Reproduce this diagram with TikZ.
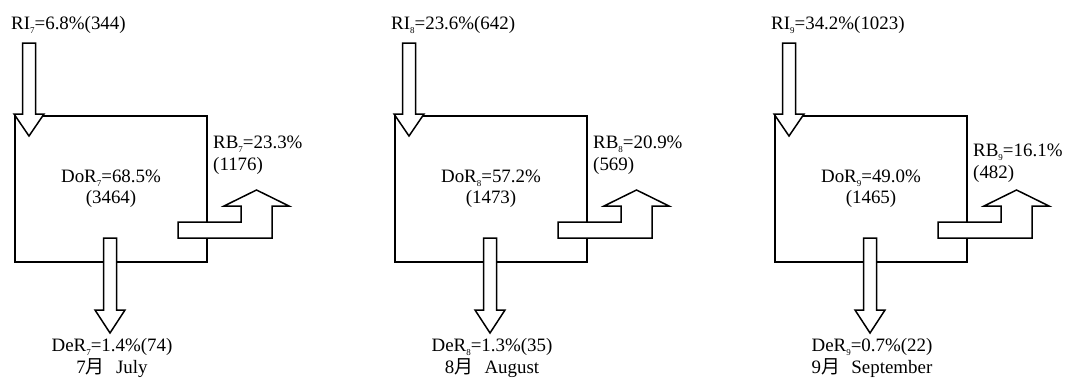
\documentclass[tikz,border=0pt]{standalone}
\usepackage{fontspec}
\setmainfont{Liberation Serif}
\newfontfamily\cjk{Noto Sans CJK SC}
\usepackage{tikz}
\newcommand\idx[1]{\raisebox{-0.45ex}{\fontsize{9}{9}\selectfont#1}}
\tikzset{
  flowbox/.style={draw,line width=1.6bp,minimum width=192bp,minimum height=146bp,
                  inner sep=0pt,align=center,font=\fontsize{19}{21}\selectfont},
  flowarr/.style={draw,fill=white,line width=1.5bp,line join=miter},
  flowlbl/.style={font=\fontsize{19}{22}\selectfont,inner sep=0pt},
}

\begin{document}
\begin{tikzpicture}[x=1bp,y=-1bp]
  \useasboundingbox (0,0) rectangle (1086,380);
  \foreach \m/\dx/\ri/\dor/\dorn/\rb/\rbn/\rby/\der/\mon in {
      7/15/{6.8\%(344)}/{68.5\%}/{(3464)}/{23.3\%}/{(1176)}/155/{1.4\%(74)}/{July},
      8/395/{23.6\%(642)}/{57.2\%}/{(1473)}/{20.9\%}/{(569)}/155/{1.3\%(35)}/{August},
      9/775/{34.2\%(1023)}/{49.0\%}/{(1465)}/{16.1\%}/{(482)}/163/{0.7\%(22)}/{September}}
  {
    \begin{scope}[xshift=\dx bp]
      % stock box with its share
      \node[flowbox] (dor\m) at (96,189) {DoR\idx{\m}=\dor\\\dorn};
      % in, out to the side, out below
      \draw[flowarr] (7.5,43) -- (20.5,43) -- (20.5,114) -- (29,114) -- (14,136)
            -- (-1,114) -- (7.5,114) -- cycle;
      \draw[flowarr] (88.5,238) -- (101.5,238) -- (101.5,310) -- (110,310) -- (95,333)
            -- (80,310) -- (88.5,310) -- cycle;
      \draw[flowarr] (163,222) -- (226,222) -- (226,206) -- (209,206) -- (241.5,190)
            -- (274,206) -- (257,206) -- (257,238) -- (163,238) -- cycle;
      \node[flowlbl,anchor=west] (ri\m) at (-4,25) {RI\idx{\m}=\ri};
      \node[flowlbl,anchor=west,align=left] (rb\m) at (198,\rby) {RB\idx{\m}=\rb\\\rbn};
      \node[flowlbl,align=center] (der\m) at (97,358)
            {DeR\idx{\m}=\der\\\m{\cjk 月}\hspace{0.6em}\mon};
    \end{scope}
  }
\end{tikzpicture}
\end{document}
